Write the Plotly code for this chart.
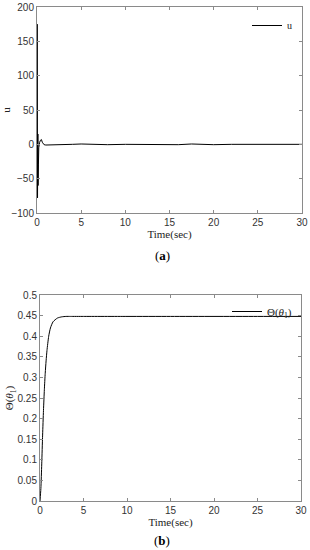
import plotly.graph_objects as go

# ---- data ----
t_u = [0, 0.02, 0.04, 0.06, 0.08, 0.1, 0.12, 0.14, 0.16, 0.2, 0.25, 0.3, 0.4, 0.5, 0.6, 0.7, 0.8,
       1.0, 1.5, 2.0, 3.0, 4.0, 5.0, 6.0, 7.0, 8.0, 10.0, 12.0, 14.0, 15.0, 16.0, 17.5, 19.0,
       20.0, 22.0, 24.0, 26.0, 27.0, 28.0, 30.0]
u_vals = [0, 175, 30, -78, -20, 15, -60, 10, -30, -5, 0, 3, 6, 7, 3, 0.5, -0.5,
          -1, -1, -1, -0.5, 0, 0.5, 0, -0.5, -0.5, 0, 0, -1, -1, -0.5, 0.5, 0,
          -0.5, 0, 0, -1, -1, 0, 0]

t_th = [0, 0.1, 0.2, 0.3, 0.4, 0.5, 0.6, 0.7, 0.8, 1.0, 1.2, 1.5, 2.0, 2.5, 3.0, 3.5,
        5, 10, 15, 20, 25, 30]
theta = [0, 0.03, 0.09, 0.16, 0.22, 0.27, 0.31, 0.34, 0.365, 0.40, 0.42, 0.435, 0.444,
         0.447, 0.448, 0.448, 0.448, 0.448, 0.448, 0.448, 0.448, 0.448]

x_ticks = [0, 5, 10, 15, 20, 25, 30]
u_ticks = [-100, -50, 0, 50, 100, 150, 200]
th_ticks = [0, 0.05, 0.1, 0.15, 0.2, 0.25, 0.3, 0.35, 0.4, 0.45, 0.5]
th_ticklabels = ["0", "0.05", "0.1", "0.15", "0.2", "0.25", "0.3", "0.35", "0.4", "0.45", "0.5"]

W, H = 310, 550
SANS = "Liberation Sans, Arial, sans-serif"
SERIF = "Liberation Serif, Times New Roman, serif"

fig = go.Figure()
fig.add_trace(go.Scatter(x=t_u, y=u_vals, mode="lines", name="u",
                         line=dict(color="black", width=1), xaxis="x", yaxis="y",
                         legend="legend"))
fig.add_trace(go.Scatter(x=t_th, y=theta, mode="lines", name="Θ(<i>θ</i><sub>1</sub>)",
                         line=dict(color="black", width=1, shape="spline", smoothing=0.6),
                         xaxis="x2", yaxis="y2", legend="legend2"))

def px_x(p):
    return p / W

def px_y(p):
    return 1 - p / H

axis_common = dict(showline=True, linecolor="#8a8a8a", linewidth=1, mirror="ticks",
                   ticks="inside", ticklen=3, tickcolor="#8a8a8a", showgrid=False,
                   zeroline=False, automargin=False, ticklabeloverflow="allow",
                   tickfont=dict(family=SANS, size=10, color="#333333"))

fig.update_layout(
    width=W, height=H, margin=dict(l=0, r=0, t=0, b=0),
    paper_bgcolor="white", plot_bgcolor="white",
    xaxis=dict(domain=[px_x(37), px_x(302)], range=[0, 30], tickvals=x_ticks,
               anchor="y",
               title=dict(text="Time(sec)", font=dict(family=SERIF, size=11, color="#222"),
                          standoff=3),
               **axis_common),
    yaxis=dict(domain=[px_y(213), px_y(7)], range=[-100, 200], tickvals=u_ticks,
               anchor="x",
               title=dict(text="u", font=dict(family=SERIF, size=11, color="#222"),
                          standoff=2),
               **axis_common),
    xaxis2=dict(domain=[px_x(40), px_x(301)], range=[0, 30], tickvals=x_ticks,
                anchor="y2",
                title=dict(text="Time(sec)", font=dict(family=SERIF, size=11, color="#222"),
                           standoff=3),
                **axis_common),
    yaxis2=dict(domain=[px_y(501), px_y(295)], range=[0, 0.5], tickvals=th_ticks,
                ticktext=th_ticklabels, anchor="x2",
                title=dict(text="Θ(<i>θ</i><sub>1</sub>)",
                           font=dict(family=SERIF, size=11, color="#222"), standoff=0),
                **axis_common),
    legend=dict(x=px_x(297), y=px_y(11), xanchor="right", yanchor="top",
                bgcolor="rgba(255,255,255,0)", borderwidth=0,
                font=dict(family=SERIF, size=10, color="#222"),
                itemwidth=30, tracegroupgap=0),
    legend2=dict(x=px_x(297), y=px_y(297), xanchor="right", yanchor="top",
                 bgcolor="rgba(255,255,255,0)", borderwidth=0,
                 font=dict(family=SERIF, size=11, color="#222"),
                 itemwidth=30, tracegroupgap=0),
    showlegend=True,
    annotations=[
        dict(text="(<b>a</b>)", x=px_x(162), y=px_y(255), xref="paper", yref="paper",
             xanchor="center", yanchor="middle",
             showarrow=False, font=dict(family=SERIF, size=13, color="black")),
        dict(text="(<b>b</b>)", x=px_x(162), y=px_y(540), xref="paper", yref="paper",
             xanchor="center", yanchor="middle",
             showarrow=False, font=dict(family=SERIF, size=13, color="black")),
    ],
)

fig.write_html("out.html", config={"displayModeBar": False},
               post_script="document.body.style.margin='0';document.body.style.overflow='hidden';")
